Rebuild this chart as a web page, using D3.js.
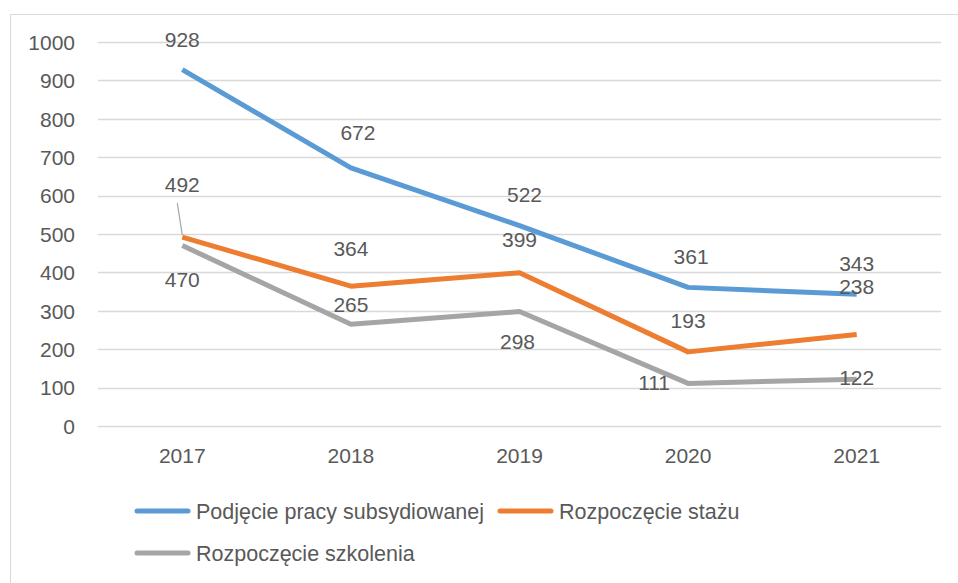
<!DOCTYPE html>
<html>
<head>
<meta charset="utf-8">
<script src="https://cdn.jsdelivr.net/npm/d3@7"></script>
<style>
  body { margin: 0; background: #fff; }
  text { font-family: "Liberation Sans", Arial, sans-serif; fill: #595959; }
</style>
</head>
<body>
<svg id="chart"></svg>
<script>
// --- dane ---
const years = ["2017", "2018", "2019", "2020", "2021"];
const seriesNames = ["Podjęcie pracy subsydiowanej", "Rozpoczęcie stażu", "Rozpoczęcie szkolenia"];
const subsydiowana = [928, 672, 522, 361, 343];
const staz = [492, 364, 399, 193, 238];
const szkolenie = [470, 265, 298, 111, 122];
const yTicks = [0, 100, 200, 300, 400, 500, 600, 700, 800, 900, 1000];

const colors = ["#5B9BD5", "#ED7D31", "#A5A5A5"];
// przesunięcia etykiet danych (jak w Excelu)
const labelOffsets = [
  [[0, -30], [7, -35], [5, -31], [3, -31], [0, -31]],
  [[0, -52], [0, -38], [0, -33], [0, -31], [0, -48]],
  [[0, 34], [0, -20], [-2, 30], [-34, -1], [0, -2]]
];

const width = 958, height = 583;
const margin = { left: 98, right: 17, top: 42, bottom: 157 };
const fontSize = "21px";

const svg = d3.select("#chart").attr("width", width).attr("height", height);

// ramka wykresu
svg.append("rect")
  .attr("x", 10.5).attr("y", 14.5)
  .attr("width", 960).attr("height", 600)
  .attr("fill", "none").attr("stroke", "#d9d9d9");

const x = d3.scaleBand().domain(years).range([margin.left, width - margin.right]);
const y = d3.scaleLinear().domain([0, 1000]).range([height - margin.bottom, margin.top]);

// siatka
svg.append("g").selectAll("line").data(yTicks).join("line")
  .attr("x1", margin.left).attr("x2", width - margin.right)
  .attr("y1", d => Math.round(y(d)) + 0.5).attr("y2", d => Math.round(y(d)) + 0.5)
  .attr("stroke", "#d9d9d9").attr("stroke-width", 1.3);

// oś Y
const yAxis = svg.append("g")
  .attr("transform", `translate(${margin.left - 23},0)`)
  .call(d3.axisLeft(y).tickValues(yTicks).tickFormat(d3.format("d")).tickSize(0).tickPadding(0));
yAxis.select(".domain").remove();
yAxis.selectAll("text").style("font-size", fontSize).attr("dy", "0.35em")
  .style("fill", "#595959").style("font-family", "Liberation Sans, Arial, sans-serif");

// oś X
const xAxis = svg.append("g")
  .attr("transform", `translate(0,${height - margin.bottom + 21})`)
  .call(d3.axisBottom(x).tickSize(0).tickPadding(0));
xAxis.select(".domain").remove();
xAxis.selectAll("text").style("font-size", fontSize).attr("dy", "0.75em")
  .style("fill", "#595959").style("font-family", "Liberation Sans, Arial, sans-serif");

const allSeries = [subsydiowana, staz, szkolenie];
const cx = i => x(years[i]) + x.bandwidth() / 2;

const line = d3.line().x((d, i) => cx(i)).y(d => y(d));

// linie w kolejności od tyłu: szkolenie, staż, subsydiowana
[2, 1, 0].forEach(s => {
  svg.append("path")
    .datum(allSeries[s])
    .attr("fill", "none")
    .attr("stroke", colors[s])
    .attr("stroke-width", 5)
    .attr("stroke-linejoin", "round")
    .attr("d", line);
});

// linia odniesienia dla etykiety 492
svg.append("line")
  .attr("x1", cx(0) - 5).attr("y1", y(staz[0]) - 34)
  .attr("x2", cx(0)).attr("y2", y(staz[0]) - 2)
  .attr("stroke", "#a5a5a5").attr("stroke-width", 1.2);

// etykiety danych
allSeries.forEach((vals, s) => {
  svg.append("g").selectAll("text").data(vals).join("text")
    .attr("x", (d, i) => cx(i) + labelOffsets[s][i][0])
    .attr("y", (d, i) => y(d) + labelOffsets[s][i][1])
    .attr("text-anchor", "middle")
    .attr("dy", "0.35em")
    .style("font-size", fontSize)
    .text(d => d);
});

// legenda
const legendItems = [
  { name: seriesNames[0], color: colors[0], x: 137, y: 511 },
  { name: seriesNames[1], color: colors[1], x: 500, y: 511 },
  { name: seriesNames[2], color: colors[2], x: 137, y: 553 }
];
const lg = svg.append("g").selectAll("g").data(legendItems).join("g")
  .attr("transform", d => `translate(${d.x},${d.y})`);
lg.append("line").attr("x1", 0).attr("x2", 51).attr("y1", 0).attr("y2", 0)
  .attr("stroke", d => d.color).attr("stroke-width", 5).attr("stroke-linecap", "round");
lg.append("text").attr("x", 59).attr("dy", "0.35em")
  .style("font-size", "21.5px").text(d => d.name);
</script>
</body>
</html>
